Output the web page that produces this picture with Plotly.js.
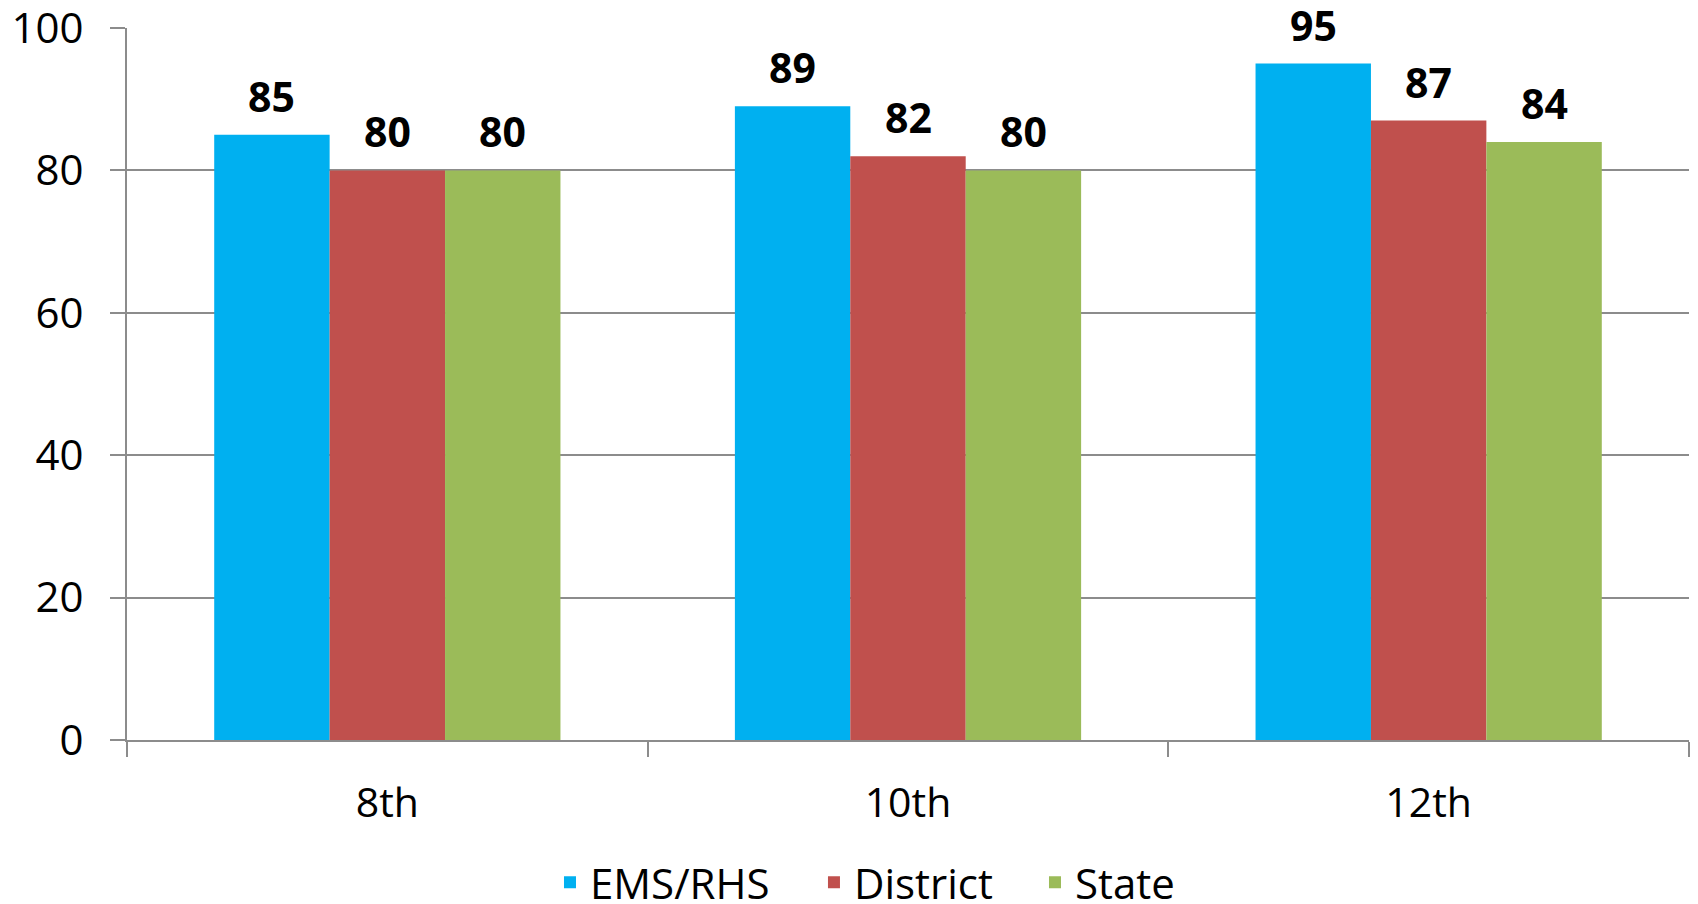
<!DOCTYPE html>
<html>
<head>
<meta charset="utf-8">
<script src="https://cdn.plot.ly/plotly-3.0.1.min.js"></script>
<style>html,body{margin:0;padding:0;background:#fff}#chart{width:1698px;height:904px}</style>
</head>
<body>
<div id="chart"></div>
<script>
const categories = ["8th", "10th", "12th"];
const seriesNames = ["EMS/RHS", "District", "State"];
const emsRhs = [85, 89, 95];
const district = [80, 82, 87];
const state = [80, 80, 84];
const yTicks = [0, 20, 40, 60, 80, 100];

const seriesValues = [emsRhs, district, state];
const colors = ["#00B0F0", "#C0504D", "#9BBB59"];
const legendIds = ["legend", "legend2", "legend3"];
const legendX = [0.2708, 0.4398, 0.5813];
const BARGAP = 0.335;
const FONT = "'Open Sans', 'Noto Sans', sans-serif";

const traces = seriesValues.map((vals, i) => ({
  type: "bar",
  name: seriesNames[i],
  x: categories,
  y: vals,
  legend: legendIds[i],
  marker: {color: colors[i], line: {width: 0}},
  hoverinfo: "x+y+name"
}));

const barW = (1 - BARGAP) / seriesValues.length;
const annotations = [];
seriesValues.forEach((vals, s) => {
  vals.forEach((v, c) => {
    annotations.push({
      x: c + (s - (seriesValues.length - 1) / 2) * barW,
      y: v,
      xref: "x", yref: "y",
      text: "<b>" + v + "</b>",
      showarrow: false,
      yanchor: "middle",
      yshift: 39,
      font: {family: FONT, size: 41, color: "#000"}
    });
  });
});

const layout = {
  width: 1698, height: 904,
  margin: {l: 127, r: 9, t: 28, b: 164, autoexpand: false},
  paper_bgcolor: "#fff", plot_bgcolor: "#fff",
  barmode: "group", bargap: BARGAP, bargroupgap: 0,
  font: {family: FONT, size: 41, color: "#000"},
  showlegend: true,
  xaxis: {
    type: "category", automargin: false,
    showline: true, linecolor: "#8c8c8c", linewidth: 2,
    ticks: "outside", tickson: "boundaries", ticklen: 15, tickcolor: "#8c8c8c", tickwidth: 2,
    ticklabelstandoff: 26,
    showgrid: false, zeroline: false,
    tickfont: {family: FONT, size: 41, color: "#000"}
  },
  yaxis: {
    range: [0, 100], tickvals: yTicks, ticktext: yTicks.map(String),
    automargin: false, ticklabeloverflow: "allow",
    showline: true, linecolor: "#8c8c8c", linewidth: 2,
    ticks: "outside", ticklen: 15, tickcolor: "#8c8c8c", tickwidth: 2,
    ticklabelstandoff: 18,
    showgrid: true, gridcolor: "#8c8c8c", gridwidth: 2,
    zeroline: false,
    tickfont: {family: FONT, size: 42, color: "#000"}
  },
  annotations: annotations
};
legendIds.forEach((id, i) => {
  layout[id] = {
    orientation: "h", x: legendX[i], xanchor: "left", y: -0.2, yanchor: "middle",
    font: {family: FONT, size: 42, color: "#000"},
    bgcolor: "rgba(0,0,0,0)"
  };
});

Plotly.newPlot("chart", traces, layout, {displayModeBar: false, staticPlot: true});
</script>
</body>
</html>
